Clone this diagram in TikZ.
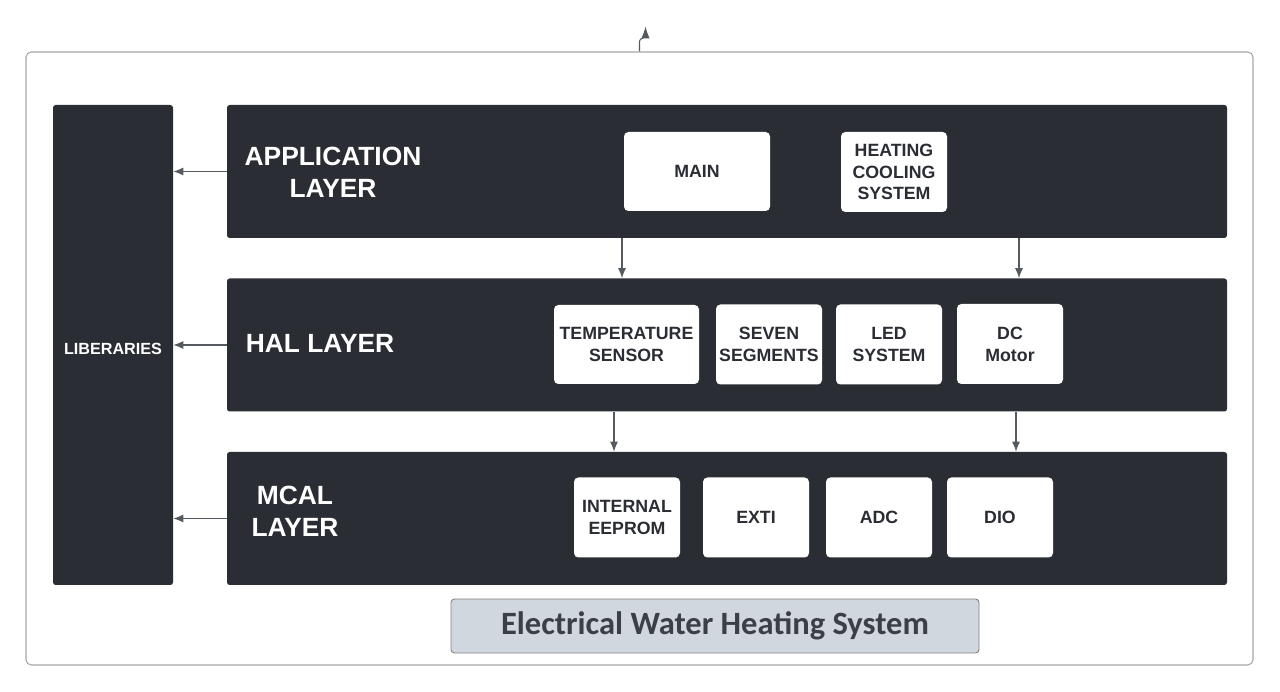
\documentclass[tikz,border=0pt]{standalone}
\usepackage{fontspec}
\setmainfont{Liberation Sans}
\newfontfamily\titlefont{Carlito}
\usetikzlibrary{arrows.meta,positioning}
\definecolor{layerdark}{HTML}{2A2D33}
\definecolor{titlefill}{HTML}{D1D7DF}
\definecolor{titletext}{HTML}{3A3F48}
\definecolor{edgegray}{HTML}{555A60}

\begin{document}
\begin{tikzpicture} [layer/.style={rectangle, fill=layerdark, rounded corners=1.5pt, minimum width=20cm, minimum height=2.66cm, inner sep=0pt},
	module/.style={rectangle, fill=white, rounded corners=2.5pt, minimum width=2.12cm, minimum height=1.6cm, align=center, text=layerdark, font=\fontsize{10.1}{12.4}\selectfont\bfseries, inner sep=0pt},
	layername/.style={text=white, align=center, font=\fontsize{15}{18}\selectfont\bfseries},
	edge/.style={draw=edgegray, line width=0.6pt, -{Latex[length=2mm,width=1.6mm]}}]
\useasboundingbox (0,0) rectangle (25.6,-13.84);
	\node [rectangle, draw=gray!70, line width=0.6pt, rounded corners=3pt, minimum width=24.54cm, minimum height=12.26cm] (frame) at (12.79,-7.17) {};
	\node [rectangle, fill=layerdark, rounded corners=1.5pt, minimum width=2.4cm, minimum height=9.6cm, text=white, text height=6.6pt, text depth=0pt, font=\fontsize{9.2}{11}\selectfont\bfseries] (libs) at (2.26,-6.9) {\raisebox{-2.3pt}{LIBERARIES}};
	\node [layer] (app) at (14.54,-3.43) {};
	\node [layer] (hal) at (14.54,-6.9) {};
	\node [layer] (mcal) at (14.54,-10.37) {};
	% layer names
	\node [layername] (appname) at (6.66,-3.44) {APPLICATION\\LAYER};
	\node [layername] (halname) at (6.4,-6.86) {HAL LAYER};
	\node [layername] (mcalname) at (5.9,-10.22) {MCAL\\LAYER};
	% application modules
	\node [module, minimum width=2.92cm, minimum height=1.58cm] (main) at (13.94,-3.43) {MAIN};
	\node [module] (heatcool) at (17.88,-3.44) {HEATING\\COOLING\\SYSTEM};
	% hal modules
	\node [module, minimum width=2.9cm, minimum height=1.58cm] (tempsensor) at (12.53,-6.89) {TEMPERATURE\\SENSOR};
	\node [module] (sevenseg) at (15.38,-6.89) {SEVEN\\SEGMENTS};
	\node [module] (ledsys) at (17.78,-6.89) {LED\\SYSTEM};
	\node [module] (dcmotor) at (20.2,-6.88) {DC\\Motor};
	% mcal modules
	\node [module] (eeprom) at (12.54,-10.35) {INTERNAL\\EEPROM};
	\node [module] (exti) at (15.12,-10.35) {EXTI};
	\node [module] (adc) at (17.58,-10.35) {ADC};
	\node [module] (dio) at (20.0,-10.35) {DIO};
	% title
	\node [rectangle, fill=titlefill, draw=gray, line width=0.5pt, rounded corners=2pt, minimum width=10.56cm, minimum height=1.08cm, text=titletext, font=\titlefont\fontsize{18.5}{21}\selectfont\bfseries] (title) at (14.3,-12.52) {Electrical Water Heating System};

	% draw edges
	\draw [edge] (app.west) -- (app.west -| libs.east);
	\draw [edge] (hal.west) -- (hal.west -| libs.east);
	\draw [edge] (mcal.west) -- (mcal.west -| libs.east);
	\draw [edge] ([xshift=-2.1cm]app.south) -- ([xshift=-2.1cm]app.south |- hal.north);
	\draw [edge] ([xshift=5.84cm]app.south) -- ([xshift=5.84cm]app.south |- hal.north);
	\draw [edge] ([xshift=-2.26cm]hal.south) -- ([xshift=-2.26cm]hal.south |- mcal.north);
	\draw [edge] ([xshift=5.78cm]hal.south) -- ([xshift=5.78cm]hal.south |- mcal.north);
	\draw [draw=edgegray, line width=0.6pt, -{Latex[length=2.4mm,width=1.7mm]}] (frame.north) -- ++(0,0.2) .. controls +(0,0.08) and +(0,-0.06) .. ++(0.12,0.12) -- ++(0,0.18);
\end{tikzpicture}
\end{document}
